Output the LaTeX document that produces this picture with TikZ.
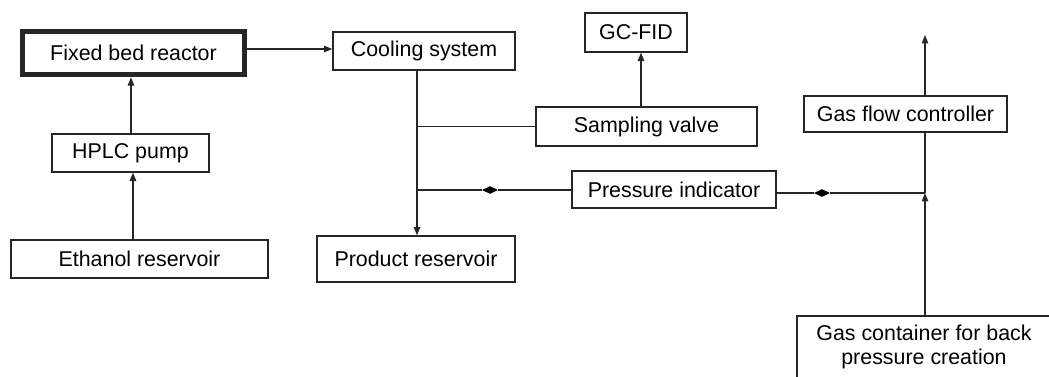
\documentclass[tikz,border=0pt]{standalone}
\usepackage{fontspec}
\setmainfont{Liberation Sans}
\usetikzlibrary{arrows.meta,shapes.geometric,calc}
\begin{document}
\begin{tikzpicture}[x=0.5pt,y=-0.5pt,
  box/.style={draw=black!85, line width=0.6pt, rectangle, inner sep=0pt, align=center,
    font=\fontsize{10.7}{12}\selectfont},
  conn/.style={draw=black!85, line width=0.6pt},
  arr/.style={conn, -{Triangle[width=3.2pt,length=4.2pt]}},
  valvemark/.style={diamond, fill=black, draw=none, inner sep=0pt, minimum width=8pt, minimum height=4pt, aspect=2}
]
\useasboundingbox[fill=white] (0,0) rectangle (1049,376);
% nodes
\node[box, line width=2.7pt, minimum width=111pt, minimum height=21.5pt] (reactor) at (133.5,53) {Fixed bed reactor};
\node[box, minimum width=91pt, minimum height=19pt] (cooling) at (424,51) {Cooling system};
\node[box, minimum width=51pt, minimum height=19.5pt] (gcfid) at (636,32.5) {GC-FID};
\node[box, minimum width=110.5pt, minimum height=19.5pt] (sampling) at (646.5,126.5) {Sampling valve};
\node[box, minimum width=102pt, minimum height=18.5pt] (pressure) at (674,189.5) {Pressure indicator};
\node[box, minimum width=101.5pt, minimum height=18pt] (gasflow) at (905.5,114) {Gas flow controller};
\node[box, minimum width=78.5pt, minimum height=19pt] (hplc) at (130.5,153) {HPLC pump};
\node[box, minimum width=128.5pt, minimum height=19pt] (ethanol) at (139.5,259) {Ethanol reservoir};
\node[box, minimum width=99pt, minimum height=23pt] (product) at (416,259) {Product reservoir};
\node[box, minimum width=127pt, minimum height=31pt] (gascont) at (924,347) {Gas container for back\\pressure creation};
% coordinates
\coordinate (tap1) at (417,126.5);
\coordinate (tap2) at (417,190);
\coordinate (junc) at (925,193);
\coordinate (vent) at (925,35);
\node[valvemark] (d1) at (490,190) {};
\node[valvemark] (d2) at (822,193) {};
% connectors
\draw[arr] (reactor.east |- 0,49) -- (cooling.west |- 0,49);
\draw[arr] (hplc.north -| 131,0) -- (reactor.south -| 131,0);
\draw[arr] (ethanol.north -| 133,0) -- (hplc.south -| 133,0);
\draw[arr] (cooling.south -| tap1) -- (product.north -| tap1);
\draw[conn] (sampling.west |- tap1) -- (tap1);
\draw[arr] (sampling.north -| 641,0) -- (gcfid.south -| 641,0);
\draw[conn] (pressure.west |- tap2) -- (d1) -- (tap2);
\draw[conn] (pressure.east |- junc) -- (d2) -- (junc);
\draw[arr] (gascont.north -| junc) -- (junc);
\draw[conn] (gasflow.south -| junc) -- (junc);
\draw[arr] (gasflow.north -| junc) -- (vent);
\end{tikzpicture}
\end{document}
